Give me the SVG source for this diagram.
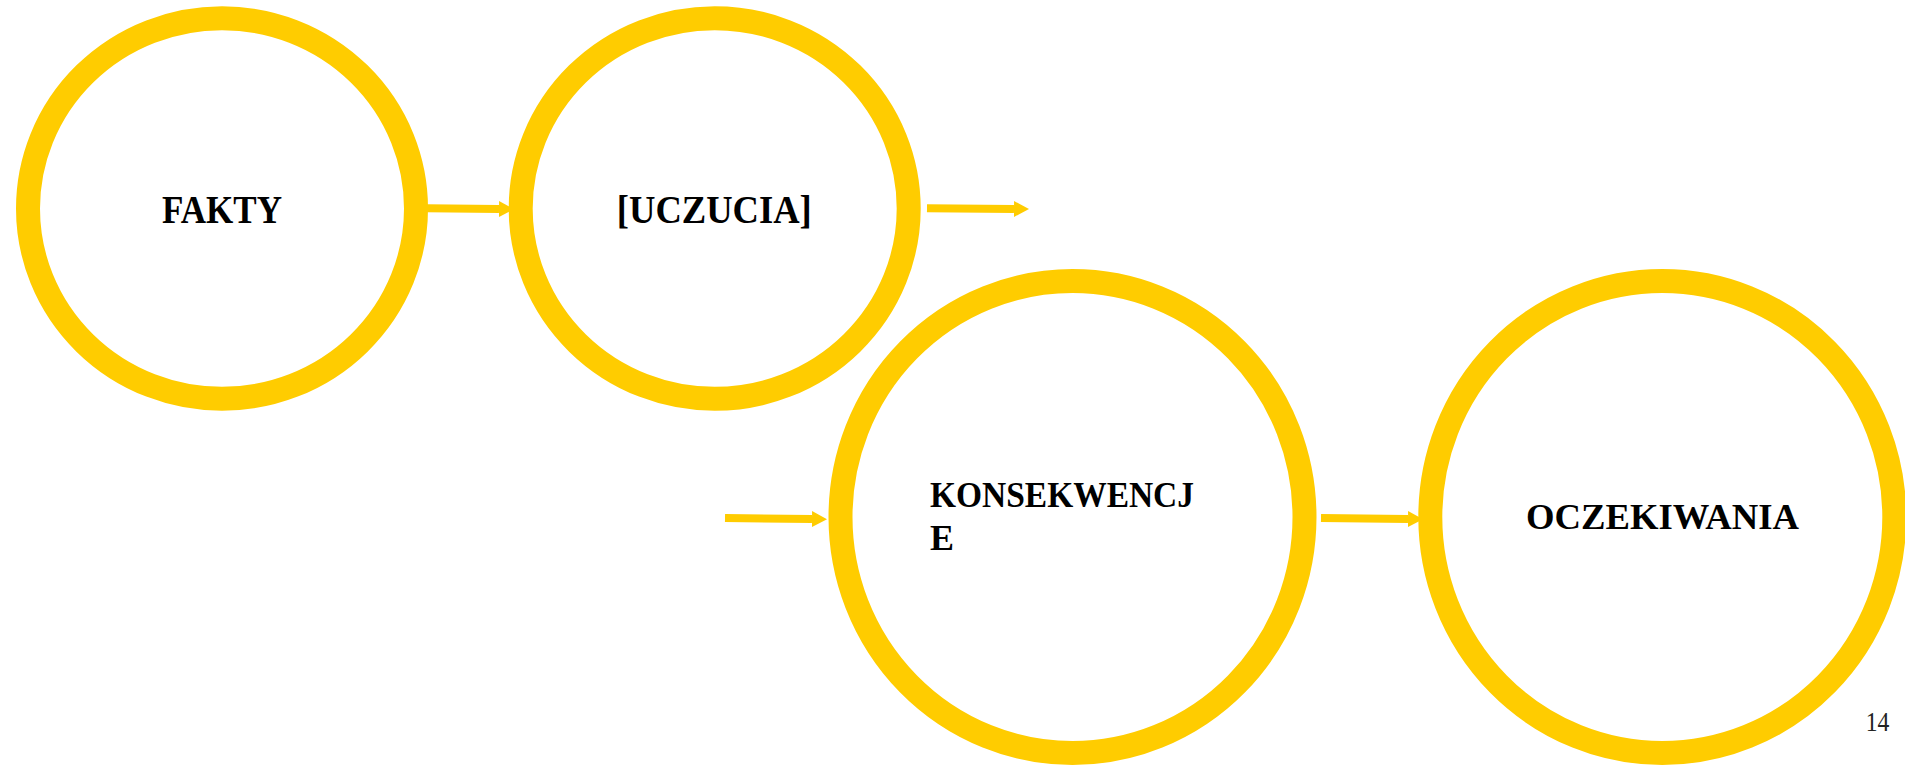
<svg xmlns="http://www.w3.org/2000/svg" width="1905" height="768" viewBox="0 0 1905 768">
<style>
.ring{fill:none;stroke:#FFCC00;stroke-width:24}
.conn{stroke:#FFCC00;stroke-width:8;fill:none}
.lbl{font-family:"Liberation Serif","Times New Roman",serif;font-weight:bold;font-size:36px;fill:#000}
.big{font-size:40px}
.pg{font-family:"Liberation Serif","Times New Roman",serif;font-size:28px;fill:#222}
</style>
<defs>
<marker id="ah" markerUnits="userSpaceOnUse" markerWidth="16" markerHeight="16" refX="0" refY="8" orient="auto" viewBox="0 0 16 16">
<path d="M0,0 L15,8 L0,16 z" fill="#FFCC00"/>
</marker>
</defs>
<rect width="1905" height="768" fill="#fff"/>
<g id="connectors">
<line class="conn" x1="427" y1="208.3" x2="499" y2="209" marker-end="url(#ah)"/>
<line class="conn" x1="927" y1="208.3" x2="1014" y2="209" marker-end="url(#ah)"/>
<line class="conn" x1="725" y1="518" x2="812" y2="519" marker-end="url(#ah)"/>
<line class="conn" x1="1321" y1="518" x2="1408" y2="519" marker-end="url(#ah)"/>
</g>
<g id="node-fakty">
<ellipse class="ring" cx="222" cy="208.5" rx="194" ry="190.3"/>
<text class="lbl big" x="222" y="222.7" text-anchor="middle" textLength="120" lengthAdjust="spacingAndGlyphs">FAKTY</text>
</g>
<g id="node-uczucia">
<ellipse class="ring" cx="714.7" cy="208.5" rx="194" ry="190.3"/>
<text class="lbl big" x="714.3" y="222.7" text-anchor="middle" textLength="195" lengthAdjust="spacingAndGlyphs">[UCZUCIA]</text>
</g>
<g id="node-konsekwencje">
<ellipse class="ring" cx="1072.5" cy="517" rx="232" ry="236"/>
<text class="lbl" x="930" y="507.3" textLength="264" lengthAdjust="spacingAndGlyphs">KONSEKWENCJ</text>
<text class="lbl" x="930" y="550">E</text>
</g>
<g id="node-oczekiwania">
<ellipse class="ring" cx="1662.3" cy="517" rx="232" ry="236"/>
<text class="lbl" x="1662.5" y="529.3" text-anchor="middle" textLength="273" lengthAdjust="spacingAndGlyphs">OCZEKIWANIA</text>
</g>
<text class="pg" x="1865.7" y="730.7" textLength="23.6" lengthAdjust="spacingAndGlyphs">14</text>
</svg>
